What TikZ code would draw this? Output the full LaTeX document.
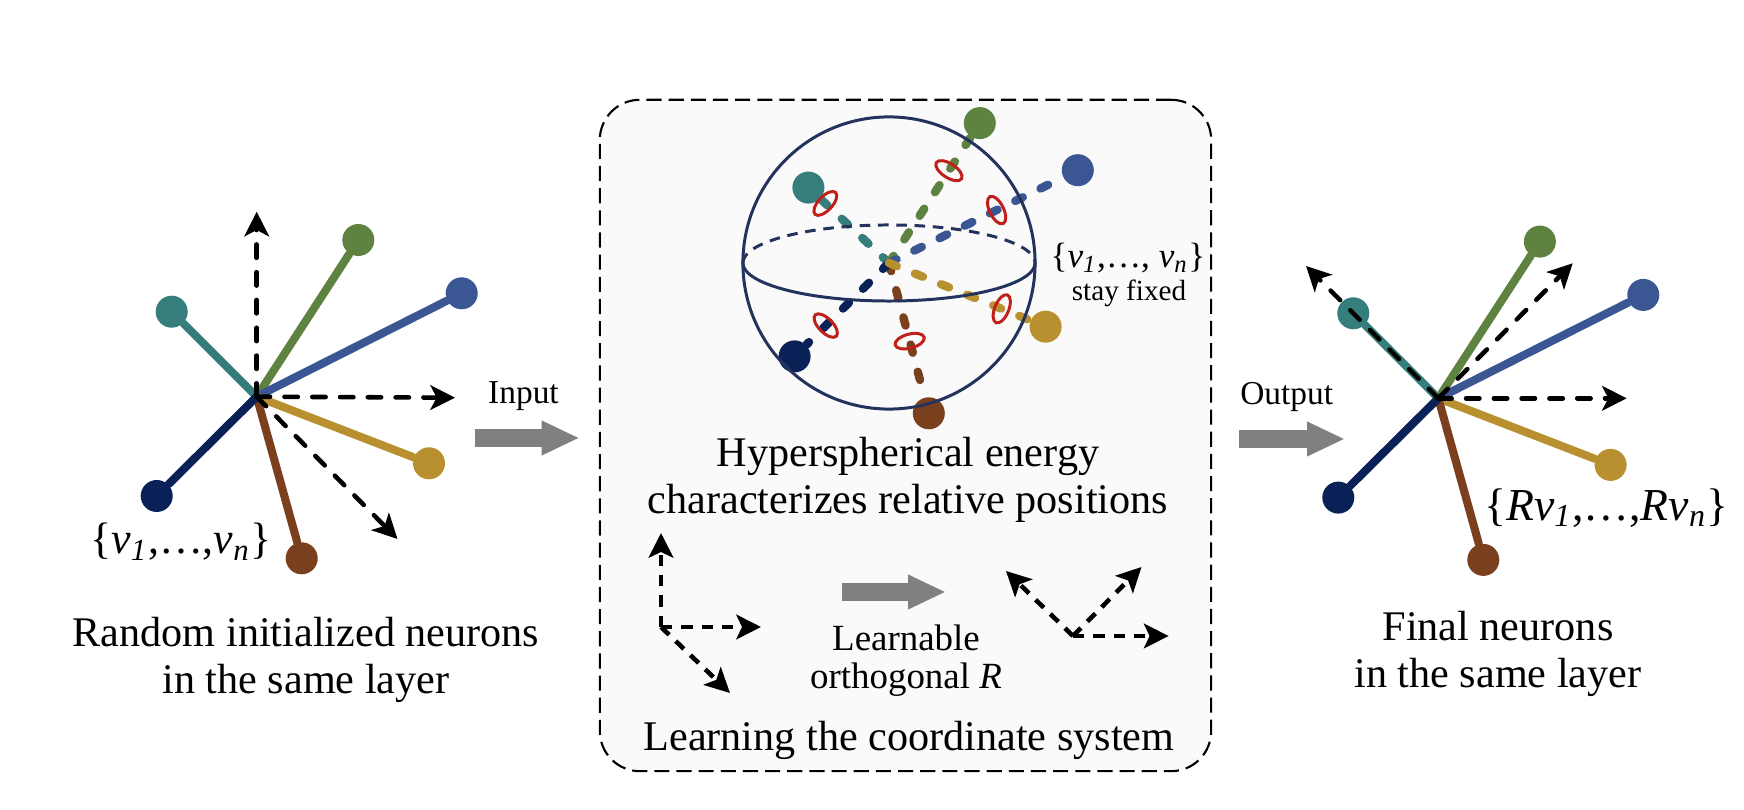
\documentclass[tikz,border=0pt]{standalone}
\usepackage{fontspec}
\setmainfont{Liberation Serif}
\usetikzlibrary{arrows.meta,shapes.geometric}
\definecolor{cteal}{RGB}{54,126,123}
\definecolor{cgreen}{RGB}{94,131,65}
\definecolor{cblue}{RGB}{58,87,148}
\definecolor{cyellow}{RGB}{184,144,48}
\definecolor{cbrown}{RGB}{122,63,28}
\definecolor{cnavy}{RGB}{10,33,88}
\definecolor{ringred}{RGB}{192,32,26}
\definecolor{spherecol}{RGB}{36,51,94}
\definecolor{flowgray}{RGB}{128,128,128}
\definecolor{boxgray}{RGB}{250,250,250}
\newcommand{\vsub}[1]{\textit{v}\textsubscript{\textit{#1}}}

\begin{document}
\begin{tikzpicture}[
x=0.01cm, y=-0.01cm,
ball/.style={
  circle,
  fill=#1,
  inner sep=0pt,
  minimum size=0.32cm
},
stick/.style={
  draw=#1,
  line width=2.3pt,
  line cap=round
},
sdash/.style={
  draw=#1,
  line width=2.4pt,
  line cap=round,
  dash pattern=on 2.4pt off 5.6pt
},
axis/.style={
  line width=1.3pt,
  line cap=round,
  dash pattern=on 3.8pt off 4.1pt,
  -{Stealth[length=7pt,width=7pt,inset=1.8pt]}
},
saxis/.style={
  line width=1.3pt,
  dash pattern=on 3.2pt off 2.6pt,
  -{Stealth[length=7pt,width=7pt,inset=1.6pt]}
},
flow/.style={
  draw=flowgray,
  line width=5.1pt,
  -{Triangle[length=10.8pt,width=9.1pt]}
},
ring/.style={
  ellipse,
  draw=ringred,
  line width=0.85pt,
  inner sep=0pt,
  minimum width=0.14cm,
  minimum height=0.3cm,
  sloped
},
txt/.style={
  font=\fontsize{12}{13.3}\selectfont,
  align=center
}
]
\useasboundingbox (0,0) rectangle (1744,810);

\node[draw,line width=0.6pt,dash pattern=on 4.3pt off 2pt,fill=boxgray,rounded corners=0.4cm,
  minimum width=6.11cm,minimum height=6.71cm,inner sep=0pt] (box) at (905.5,435.5) {};

\coordinate (o1) at (256.7,396.7);
\node[ball=cteal] (n1) at (171.7,311.7) {};
\node[ball=cgreen] (n2) at (358.3,240) {};
\node[ball=cblue] (n3) at (461.7,293.3) {};
\node[ball=cyellow] (n4) at (429,463.3) {};
\node[ball=cbrown] (n5) at (301.7,558.3) {};
\node[ball=cnavy] (n6) at (156.7,496) {};
\draw[stick=cteal] (o1) -- (n1);
\draw[stick=cgreen] (o1) -- (n2);
\draw[stick=cblue] (o1) -- (n3);
\draw[stick=cyellow] (o1) -- (n4);
\draw[stick=cbrown] (o1) -- (n5);
\draw[stick=cnavy] (o1) -- (n6);
\coordinate (ax1) at (256.7,211.7);
\coordinate (ax2) at (455,397.7);
\coordinate (ax3) at (397.5,539);
\draw[axis] (o1) -- (ax1);
\draw[axis] (o1) -- (ax2);
\draw[axis] (o1) -- (ax3);
\node[font=\fontsize{12.5}{14}\selectfont] (set1) at (181,542) {\{\vsub{1},…,\vsub{n}\}};
\node[txt] (cap1) at (306,660) {Random initialized neurons\\in the same layer};

\coordinate (in1) at (474.5,438);
\coordinate (in2) at (579.6,438);
\draw[flow] (in1) -- (in2);
\node[font=\fontsize{9.5}{11}\selectfont] (input) at (523.5,396) {Input};

\coordinate (o) at (889,263);
\node[ball=cteal] (s1) at (808.4,187.6) {};
\node[ball=cgreen] (s2) at (979.8,123.1) {};
\node[ball=cblue] (s3) at (1077.8,170.2) {};
\node[ball=cyellow] (s4) at (1045.6,326.7) {};
\node[ball=cbrown] (s5) at (928.8,413.3) {};
\node[ball=cnavy] (s6) at (794.6,356.4) {};
\draw[sdash=cteal] (o) -- (s1);
\draw[sdash=cgreen] (o) -- (s2);
\draw[sdash=cblue] (o) -- (s3);
\draw[sdash=cbrown] (o) -- (s5);
\draw[sdash=cnavy] (o) -- (s6);
\draw[sdash=cyellow] (o) -- (s4);
\path (o) -- (s1.center) node[ring,pos=0.79] {};
\path (o) -- (s2.center) node[ring,pos=0.66] {};
\path (o) -- (s3.center) node[ring,pos=0.57] {};
\path (o) -- (s4.center) node[ring,pos=0.72] {};
\path (o) -- (s5.center) node[ring,pos=0.52] {};
\path (o) -- (s6.center) node[ring,pos=0.67] {};
\node[circle,draw=spherecol,line width=0.85pt,minimum size=2.92cm,inner sep=0pt,outer sep=0pt] (sphere) at (o) {};
\draw[spherecol,line width=0.85pt,dash pattern=on 3pt off 2.2pt] (sphere.west) arc[start angle=180,end angle=0,x radius=1.46cm,y radius=0.38cm];
\draw[spherecol,line width=0.85pt] (sphere.west) arc[start angle=180,end angle=360,x radius=1.46cm,y radius=0.38cm];
\node[font=\fontsize{10}{11}\selectfont] (fixed) at (1128,258) {\{\vsub{1},…, \vsub{n}\}};
\node[font=\fontsize{8.3}{10}\selectfont] (stay) at (1129,293) {stay fixed};
\node[txt] (energy) at (908,480) {Hyperspherical energy\\characterizes relative positions};

\coordinate (p1) at (661,627);
\coordinate (p1a) at (661,533);
\coordinate (p1b) at (761,627);
\coordinate (p1c) at (730,693);
\draw[saxis] (p1) -- (p1a);
\draw[saxis] (p1) -- (p1b);
\draw[saxis] (p1) -- (p1c);
\coordinate (mid1) at (841.5,592);
\coordinate (mid2) at (946,592);
\draw[flow] (mid1) -- (mid2);
\node[font=\fontsize{10.5}{10.8}\selectfont,align=center] (learn) at (906,661) {Learnable\\orthogonal \textit{R}};
\coordinate (p2) at (1073,636);
\coordinate (p2a) at (1006,571);
\coordinate (p2b) at (1141.5,567);
\coordinate (p2c) at (1168.6,636);
\draw[saxis] (p2) -- (p2a);
\draw[saxis] (p2) -- (p2b);
\draw[saxis] (p2) -- (p2c);
\node[txt] (coord) at (909,740) {Learning the coordinate system};

\coordinate (out1) at (1239.3,439);
\coordinate (out2) at (1345,439);
\draw[flow] (out1) -- (out2);
\node[font=\fontsize{9.5}{11}\selectfont] (output) at (1286.7,397) {Output};

\begin{scope}[shift={(1181.6,1.6)}]
\coordinate (o2) at (256.7,396.7);
\node[ball=cteal] (m1) at (171.7,311.7) {};
\node[ball=cgreen] (m2) at (358.3,240) {};
\node[ball=cblue] (m3) at (461.7,293.3) {};
\node[ball=cyellow] (m4) at (429,463.3) {};
\node[ball=cbrown] (m5) at (301.7,558.3) {};
\node[ball=cnavy] (m6) at (156.7,496) {};
\draw[stick=cteal] (o2) -- (m1);
\draw[stick=cgreen] (o2) -- (m2);
\draw[stick=cblue] (o2) -- (m3);
\draw[stick=cyellow] (o2) -- (m4);
\draw[stick=cbrown] (o2) -- (m5);
\draw[stick=cnavy] (o2) -- (m6);
\coordinate (bx1) at (124.4,264.4);
\coordinate (bx2) at (391.1,261.7);
\coordinate (bx3) at (445.1,396.7);
\draw[axis] (o2) -- (bx1);
\draw[axis] (o2) -- (bx2);
\draw[axis] (o2) -- (bx3);
\end{scope}
\node[font=\fontsize{13}{15}\selectfont] (set2) at (1606.5,508) {\{\textit{R}\vsub{1},…,\textit{R}\vsub{n}\}};
\node[txt] (cap2) at (1498,654) {Final neurons\\in the same layer};
\end{tikzpicture}
\end{document}
